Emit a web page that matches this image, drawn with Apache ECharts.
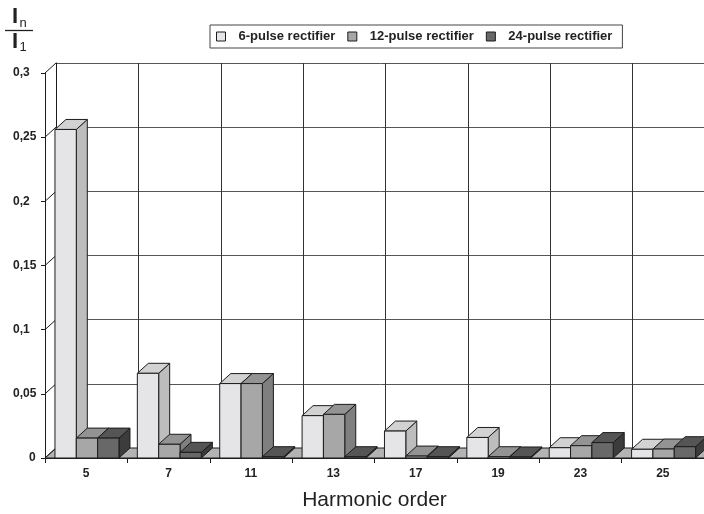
<!DOCTYPE html>
<html>
<head>
<meta charset="utf-8">
<script src="https://cdn.jsdelivr.net/npm/echarts@6/dist/echarts.min.js"></script>
<style>
html,body{margin:0;padding:0;background:#fff;}
#chart{width:704px;height:514px;}
</style>
</head>
<body>
<div id="chart"></div>
<script>
const categories = ['5', '7', '11', '13', '17', '19', '23', '25'];
const pulse6 = [0.256, 0.066, 0.058, 0.033, 0.021, 0.016, 0.008, 0.0068];
const pulse12 = [0.0155, 0.0107, 0.058, 0.034, 0.0015, 0.001, 0.0096, 0.007];
const pulse24 = [0.0155, 0.0044, 0.001, 0.001, 0.001, 0.0008, 0.012, 0.0088];
const seriesNames = ['6-pulse rectifier', '12-pulse rectifier', '24-pulse rectifier'];
const yTickValues = [0, 0.05, 0.1, 0.15, 0.2, 0.25, 0.3];
const yTickLabels = ['0', '0,05', '0,1', '0,15', '0,2', '0,25', '0,3'];

const FONT = "'Liberation Sans', Arial, Helvetica, sans-serif";
const DX = 11, DY = 10;
const EDGE = '#1c1c1c';
const faces = [
  { front: '#e5e5e7', top: '#d2d2d2', side: '#bdbdbd' },
  { front: '#a7a7a7', top: '#939393', side: '#7f7f7f' },
  { front: '#686868', top: '#555555', side: '#3c3c3c' }
];

function barRenderer(slot) {
  const f = faces[slot];
  return function (params, api) {
    const i = api.value(0), v = api.value(1);
    const base = api.coord([i, 0]);
    const top = api.coord([i, v]);
    const band = api.size([1, 0])[0];
    const w = band * 0.259;
    const x0 = base[0] - band / 2 + band * 0.121 + slot * w;
    const x1 = x0 + w;
    const yb = base[1], yt = top[1];
    const st = { stroke: EDGE, lineWidth: 1 };
    return {
      type: 'group',
      children: [
        { type: 'polygon', shape: { points: [[x1, yt], [x1 + DX, yt - DY], [x1 + DX, yb - DY], [x1, yb]] }, style: Object.assign({ fill: f.side }, st) },
        { type: 'polygon', shape: { points: [[x0, yt], [x1, yt], [x1 + DX, yt - DY], [x0 + DX, yt - DY]] }, style: Object.assign({ fill: f.top }, st) },
        { type: 'rect', shape: { x: x0, y: yt, width: w, height: yb - yt }, style: Object.assign({ fill: f.front }, st) }
      ]
    };
  };
}

const chart = echarts.init(document.getElementById('chart'), null, { renderer: 'canvas' });

const option = {
  animation: false,
  backgroundColor: '#fff',
  textStyle: { fontFamily: FONT },
  legend: {
    data: seriesNames,
    left: 210,
    top: 25,
    orient: 'horizontal',
    padding: [5, 10, 5, 6],
    borderColor: '#444',
    borderWidth: 1,
    itemWidth: 9,
    itemHeight: 9,
    itemGap: 12,
    icon: 'rect',
    itemStyle: { borderColor: EDGE, borderWidth: 1 },
    textStyle: { fontFamily: FONT, fontSize: 13, fontWeight: 'bold', color: '#222', padding: [0, 0, 0, 8] }
  },
  grid: [
    { left: 45, top: 73, width: 659, height: 385, outerBoundsMode: 'none', containLabel: false },
    { left: 56, top: 63, width: 659, height: 385, outerBoundsMode: 'none', containLabel: false }
  ],
  xAxis: [
    {
      type: 'category', gridIndex: 0, data: categories, boundaryGap: true,
      axisLine: { show: true, lineStyle: { color: EDGE, width: 1 } },
      axisTick: { show: true, length: 5, interval: 0, lineStyle: { color: EDGE } },
      axisLabel: { interval: 0, margin: 10, fontFamily: FONT, fontSize: 12, fontWeight: 'bold', color: '#222' },
      splitLine: { show: false },
      name: 'Harmonic order', nameLocation: 'middle', nameGap: 32,
      nameTextStyle: { fontFamily: FONT, fontSize: 21, color: '#222' }
    },
    {
      type: 'category', gridIndex: 1, data: categories, boundaryGap: true,
      axisLine: { show: false }, axisTick: { show: false }, axisLabel: { show: false },
      splitLine: { show: true, interval: 0, lineStyle: { color: '#333', width: 1 } }
    }
  ],
  yAxis: [
    {
      type: 'value', gridIndex: 0, min: 0, max: 0.3, interval: 0.05,
      axisLine: { show: true, lineStyle: { color: EDGE, width: 1 } },
      axisTick: { show: true, length: 4, lineStyle: { color: EDGE } },
      axisLabel: {
        align: 'left', margin: 32, fontFamily: FONT, fontSize: 12, fontWeight: 'bold', color: '#222',
        formatter: function (val, idx) {
          const k = yTickValues.findIndex(t => Math.abs(t - val) < 1e-9);
          const s = k >= 0 ? yTickLabels[k] : '';
          return k === 0 ? '{z|' + s + '}' : s;
        },
        rich: { z: { padding: [0, 0, 0, 16], fontFamily: FONT, fontSize: 12, fontWeight: 'bold', color: '#222' } }
      },
      splitLine: { show: false }
    },
    {
      type: 'value', gridIndex: 1, min: 0, max: 0.3, interval: 0.05,
      axisLine: { show: true, lineStyle: { color: EDGE, width: 1 } },
      axisTick: { show: false }, axisLabel: { show: false },
      splitLine: { show: true, lineStyle: { color: '#555', width: 1 } }
    }
  ],
  graphic: [
    { type: 'text', x: 12, y: 17, style: { text: 'I', font: 'bold 22px ' + FONT, fill: '#222', verticalAlign: 'middle' } },
    { type: 'text', x: 19.5, y: 23, style: { text: 'n', font: '13px ' + FONT, fill: '#222', verticalAlign: 'middle' } },
    { type: 'line', shape: { x1: 5, y1: 30.5, x2: 33, y2: 30.5 }, style: { stroke: '#222', lineWidth: 1.3 } },
    { type: 'text', x: 12, y: 42, style: { text: 'I', font: 'bold 22px ' + FONT, fill: '#222', verticalAlign: 'middle' } },
    { type: 'text', x: 19.5, y: 47, style: { text: '1', font: '13px ' + FONT, fill: '#222', verticalAlign: 'middle' } }
  ],
  series: [
    {
      name: 'floor', type: 'custom', xAxisIndex: 0, yAxisIndex: 0, silent: true,
      data: [[0, 0]], encode: { x: 0, y: 1 },
      renderItem: function (params, api) {
        const cs = params.coordSys;
        const yb = cs.y + cs.height;
        return {
          type: 'polygon',
          shape: { points: [[cs.x, yb], [cs.x + cs.width, yb], [cs.x + cs.width + DX, yb - DY], [cs.x + DX, yb - DY]] },
          style: { fill: '#b3b3b3', stroke: EDGE, lineWidth: 1 }
        };
      }
    },
    {
      name: 'sidewall', type: 'custom', xAxisIndex: 0, yAxisIndex: 0, silent: true,
      data: yTickValues.map(v => [0, v]), encode: { x: 0, y: 1 },
      renderItem: function (params, api) {
        const cs = params.coordSys;
        const y = api.coord([0, api.value(1)])[1];
        return {
          type: 'line',
          shape: { x1: cs.x, y1: y, x2: cs.x + DX, y2: y - DY },
          style: { stroke: EDGE, lineWidth: 1 }
        };
      }
    },
    {
      name: seriesNames[0], type: 'custom', xAxisIndex: 0, yAxisIndex: 0,
      itemStyle: { color: faces[0].front, borderColor: EDGE, borderWidth: 1 },
      data: pulse6.map((v, i) => [i, v]), encode: { x: 0, y: 1 },
      renderItem: barRenderer(0)
    },
    {
      name: seriesNames[1], type: 'custom', xAxisIndex: 0, yAxisIndex: 0,
      itemStyle: { color: faces[1].front, borderColor: EDGE, borderWidth: 1 },
      data: pulse12.map((v, i) => [i, v]), encode: { x: 0, y: 1 },
      renderItem: barRenderer(1)
    },
    {
      name: seriesNames[2], type: 'custom', xAxisIndex: 0, yAxisIndex: 0,
      itemStyle: { color: faces[2].front, borderColor: EDGE, borderWidth: 1 },
      data: pulse24.map((v, i) => [i, v]), encode: { x: 0, y: 1 },
      renderItem: barRenderer(2)
    }
  ]
};
chart.setOption(option);
</script>
</body>
</html>
